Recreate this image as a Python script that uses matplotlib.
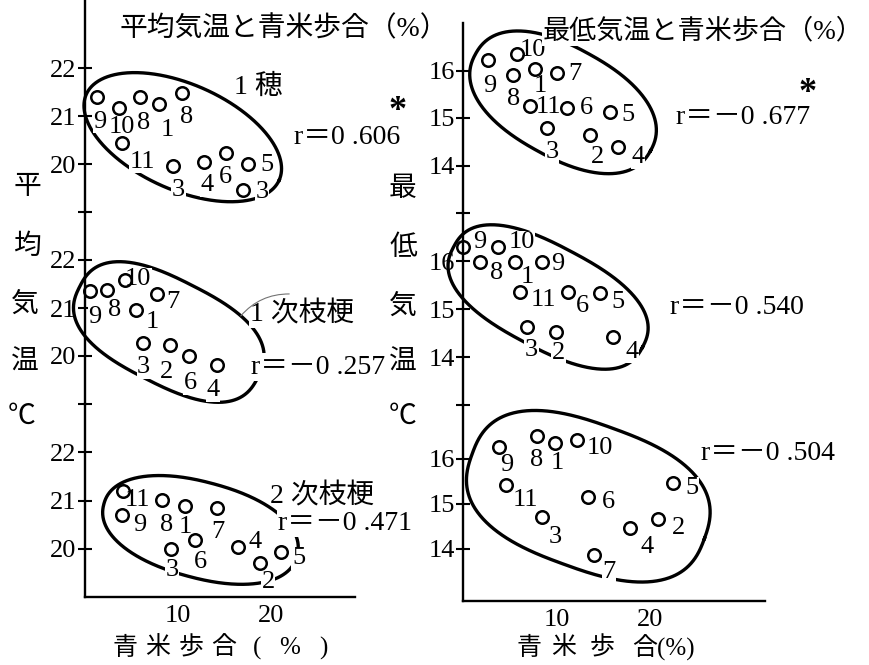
import numpy as np
import matplotlib
matplotlib.use("Agg")
import matplotlib.pyplot as plt

plt.rcParams["font.family"] = ["Liberation Serif", "Noto Sans CJK JP", "DejaVu Sans"]
plt.rcParams["axes.linewidth"] = 1.7

W, H, DPI = 869, 665, 100

# ---------------- data: 平均気温 (℃) vs 青米歩合 (%) ----------------
# 1穂
mean_ear_x = [1.3, 3.6, 5.9, 7.95, 10.4, 4.0, 9.5, 12.8, 15.1, 17.5, 17.0]
mean_ear_y = [21.40, 21.17, 21.40, 21.25, 21.48, 20.44, 19.96, 20.04, 20.23, 20.00, 19.46]
mean_ear_lbl = ["9", "10", "8", "1", "8", "11", "3", "4", "6", "5", "3"]
# 1次枝梗
mean_pri_x = [0.54, 2.37, 4.3, 7.7, 5.5, 6.2, 9.1, 11.2, 14.2]
mean_pri_y = [21.35, 21.38, 21.58, 21.29, 20.96, 20.27, 20.23, 20.00, 19.81]
mean_pri_lbl = ["9", "8", "10", "7", "1", "3", "2", "6", "4"]
# 2次枝梗
mean_sec_x = [4.1, 4.0, 8.3, 10.75, 14.2, 9.25, 11.8, 16.45, 18.8, 21.0]
mean_sec_y = [21.20, 20.70, 21.01, 20.89, 20.84, 19.99, 20.18, 20.04, 19.70, 19.93]
mean_sec_lbl = ["11", "9", "8", "1", "7", "3", "6", "4", "2", "5"]

# ---------------- data: 最低気温 (℃) vs 青米歩合 (%) ----------------
min_ear_x = [2.67, 5.8, 5.35, 7.7, 10.05, 7.2, 11.1, 15.7, 9.0, 13.6, 16.6]
min_ear_y = [16.23, 16.35, 15.91, 16.04, 15.94, 15.26, 15.22, 15.12, 14.78, 14.64, 14.38]
min_ear_lbl = ["9", "10", "8", "1", "7", "11", "6", "5", "3", "2", "4"]

min_pri_x = [0.0, 3.7, 1.8, 5.6, 8.45, 6.1, 11.2, 14.65, 6.8, 9.9, 16.0]
min_pri_y = [16.29, 16.29, 15.98, 15.98, 15.98, 15.35, 15.35, 15.33, 14.63, 14.52, 14.42]
min_pri_lbl = ["9", "10", "8", "1", "9", "11", "6", "5", "3", "2", "4"]

min_sec_x = [3.85, 7.9, 9.85, 12.2, 4.6, 13.4, 22.5, 8.45, 17.9, 20.9, 14.0]
min_sec_y = [16.26, 16.51, 16.35, 16.42, 15.42, 15.15, 15.46, 14.71, 14.46, 14.66, 13.86]
min_sec_lbl = ["9", "8", "1", "10", "11", "6", "5", "3", "4", "2", "7"]

r_values = ["0 .606", "－0 .257", "－0 .471", "－0 .677", "－0 .540", "－0 .504"]
mean_ticks = [20, 21, 22]
min_ticks = [14, 15, 16]
x_ticks = [10, 20]

# label placement (pixels right / up from each circle)
off_mean_ear = [(3, -25), (3, -19), (4, -26), (8, -26), (5, -24), (20, -19),
                (5, -24), (3, -23), (0, -24), (19, -1), (19, -2)]
off_mean_pri = [(5, -26), (8, -20), (13, 1), (16, -8), (16, -12), (1, -24),
                (-3, -27), (1, -27), (-4, -25)]
off_mean_sec = [(14, -9), (18, -10), (4, -25), (0, -21), (1, -24), (1, -21),
                (6, -22), (17, 5), (8, -19), (18, -6)]
off_min_ear = [(2, -26), (16, 4), (1, -24), (5, -17), (18, -1), (18, -1),
               (20, 0), (18, -3), (5, -24), (7, -22), (20, -10)]
off_min_pri = [(17, 5), (24, 5), (17, -11), (12, -15), (16, -2), (23, -8),
               (15, -14), (18, -9), (5, -23), (3, -21), (19, -15)]
off_min_sec = [(8, -18), (0, -24), (2, -20), (23, -8), (19, -15), (20, -5),
               (19, -5), (13, -20), (17, -19), (20, -9), (15, -17)]

fig = plt.figure(figsize=(W / DPI, H / DPI), dpi=DPI)
fig.patch.set_facecolor("white")


def fpos(x, y):
    return x / W, 1 - y / H


def panel(left, top, right, bottom, xlim, ylim, ticks, boundary, show_x):
    ax = fig.add_axes([left / W, 1 - bottom / H, (right - left) / W, (bottom - top) / H])
    ax.set_xlim(*xlim)
    ax.set_ylim(*ylim)
    ax.patch.set_alpha(0)
    ax.spines["top"].set_visible(False)
    ax.spines["right"].set_visible(False)
    yt = ([boundary] if boundary is not None else []) + list(ticks)
    ax.set_yticks(yt)
    ax.set_yticklabels([("" if boundary is not None and i == 0 else f"{t:g}") for i, t in enumerate(yt)])
    ax.tick_params(axis="y", direction="inout", length=10, width=1.5, pad=1, labelsize=19)
    if show_x:
        ax.set_xticks(x_ticks)
        ax.tick_params(axis="x", length=0, pad=6, labelsize=19)
    else:
        ax.spines["bottom"].set_visible(False)
        ax.set_xticks([])
    return ax


def outline(ax, cx, cy, a, b, ang, n):
    t = np.linspace(0, 2 * np.pi, 720)
    c, s = np.cos(t), np.sin(t)
    u = a * np.sign(c) * np.abs(c) ** (2 / n)
    v = b * np.sign(s) * np.abs(s) ** (2 / n)
    th = np.deg2rad(ang)
    k = fig.dpi / 72.0
    dx = (u * np.cos(th) - v * np.sin(th)) * k
    dy = (u * np.sin(th) + v * np.cos(th)) * k
    x0, y0 = ax.transData.transform((cx, cy))
    pts = ax.transData.inverted().transform(np.column_stack([x0 + dx, y0 + dy]))
    ax.plot(pts[:, 0], pts[:, 1], color="black", lw=2.4, zorder=1, clip_on=False)


def scatter(ax, xs, ys, labels, offs):
    ax.plot(xs, ys, "o", ms=9, mfc="none", mec="black", mew=1.8, zorder=4, clip_on=False)
    for x, y, lab, (dx, dy) in zip(xs, ys, labels, offs):
        ax.annotate(lab, (x, y), xytext=(dx, dy), textcoords="offset pixels",
                    ha="center", va="center", fontsize=19, zorder=3, annotation_clip=False,
                    bbox=dict(boxstyle="square,pad=0.02", fc="white", ec="none"))


WHITE = dict(boxstyle="square,pad=0.05", fc="white", ec="none")


def ftext(x, y, s, size=20, ha="center", **kw):
    fig.text(*fpos(x, y), s, fontsize=size, ha=ha, va="center", zorder=5, **kw)


# ---- 平均気温 column ----
L1 = panel(85, 0, 355, 212, (0, 29.0), (19, 23.42), mean_ticks, 19, False)
L2 = panel(85, 212, 355, 404, (0, 29.0), (19, 23), mean_ticks, 19, False)
L3 = panel(85, 404, 355, 597, (0, 29.0), (19, 23), mean_ticks, None, True)
outline(L1, 10.5, 20.56, 76, 38, -24, 2.0)
outline(L2, 9.0, 20.5, 72, 37.5, -27, 2.6)
outline(L3, 12.4, 20.39, 72, 34.5, -15, 2.2)
scatter(L1, mean_ear_x, mean_ear_y, mean_ear_lbl, off_mean_ear)
scatter(L2, mean_pri_x, mean_pri_y, mean_pri_lbl, off_mean_pri)
scatter(L3, mean_sec_x, mean_sec_y, mean_sec_lbl, off_mean_sec)

# ---- 最低気温 column ----
R1 = panel(463, 23, 765, 213, (0, 32.3), (13, 17), min_ticks, 13, False)
R2 = panel(463, 213, 765, 405, (0, 32.3), (13, 17), min_ticks, 13, False)
R3 = panel(463, 405, 765, 601, (0, 32.3), (12.84, 17.2), min_ticks, None, True)
outline(R1, 10.7, 15.33, 72, 39.5, -29, 2.3)
outline(R2, 9.1, 15.25, 77, 36.7, -28, 2.5)
outline(R3, 13.4, 15.17, 89, 52, -20, 2.6)
scatter(R1, min_ear_x, min_ear_y, min_ear_lbl, off_min_ear)
scatter(R2, min_pri_x, min_pri_y, min_pri_lbl, off_min_pri)
scatter(R3, min_sec_x, min_sec_y, min_sec_lbl, off_min_sec)

# ---- titles ----
ftext(120, 29, "平均気温と青米歩合（%）", ha="left", bbox=WHITE)
ftext(543, 32, "最低気温と青米歩合（%）", size=19.5, ha="left", bbox=WHITE)

# ---- group names and correlation coefficients ----
ftext(258, 87, "1 穂")
ftext(302, 314, "1 次枝梗", bbox=WHITE)
ftext(322, 496, "2 次枝梗")
for (x, y), r in zip([(347, 138), (318, 367), (345, 523), (743, 117), (737, 307), (768, 454)], r_values):
    ftext(x, y, "r＝" + r, bbox=WHITE)
ftext(398, 112, "*", size=26, fontweight="bold")
ftext(808, 93, "*", size=26, fontweight="bold")
fig.add_artist(matplotlib.patches.FancyArrowPatch(
    fpos(239, 318), fpos(292, 294), transform=fig.transFigure, zorder=6,
    arrowstyle="-", connectionstyle="arc3,rad=-0.25", lw=0.8, color="0.45"))

# ---- vertical axis titles ----
for ch, (x, y) in zip("平均気温℃", [(27, 187), (27, 247), (25, 305), (25, 363), (22, 417)]):
    ftext(x, y, ch)
for ch, (x, y) in zip("最低気温℃", [(403, 190), (403, 248), (403, 307), (403, 363), (403, 417)]):
    ftext(x, y, ch)

# ---- horizontal axis titles ----
for i, ch in enumerate("青米歩合(%)"):
    ftext(125 + 33 * i, 648, ch, size=18)
for ch, x in zip("青米歩", [529, 564, 602]):
    ftext(x, 648, ch, size=18)
ftext(632, 648, "合(%)", size=18, ha="left")

fig.savefig("out.png", dpi=DPI, facecolor="white")
